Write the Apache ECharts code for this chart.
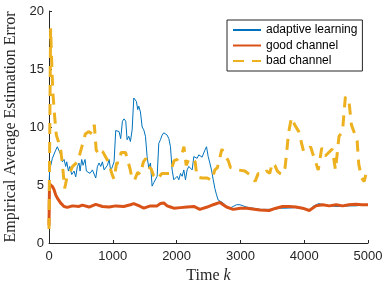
<!DOCTYPE html>
<html>
<head>
<meta charset="utf-8">
<script src="https://cdn.jsdelivr.net/npm/echarts@6/dist/echarts.min.js"></script>
<style>
  html, body { margin: 0; padding: 0; background: #fff; }
  #errchart { width: 384px; height: 281px; }
</style>
</head>
<body>
<div id="errchart"></div>
<script>
// time steps k and error values
const adaptiveK = [0, 11, 27, 53, 105, 131, 184, 210, 236, 262, 278, 304, 325, 356, 393, 419, 445, 471, 487, 513,
  534, 565, 586, 643, 680, 733, 759, 785, 811, 837, 864, 916, 942, 968, 994, 1020, 1046, 1072, 1098, 1124,
  1151, 1177, 1203, 1224, 1250, 1276, 1303, 1329, 1340, 1370, 1391, 1407, 1433, 1460, 1486, 1512, 1538, 1564, 1590, 1616,
  1642, 1695, 1721, 1747, 1773, 1799, 1852, 1878, 1904, 1930, 1956, 1982, 2009, 2035, 2061, 2087, 2113, 2139, 2165, 2191,
  2244, 2270, 2322, 2348, 2400, 2443, 2469, 2480, 2495, 2521, 2547, 2574, 2600, 2626, 2652, 2678, 2731, 2783, 2835, 2887,
  2940, 2992, 3044, 3096, 3201, 3306, 3410, 3515, 3619, 3720, 3870, 3975, 4080, 4150, 4230, 4300, 4400, 4500, 4600, 4700,
  4800, 4900, 5000];
const adaptiveErr = [5.0, 6.3, 6.2, 7.3, 8.0, 8.3, 7.6, 7.0, 7.2, 6.6, 7.0, 6.2, 6.6, 5.9, 6.2, 5.7, 6.6, 6.9, 6.2, 7.2,
  6.7, 7.2, 6.2, 6.0, 6.3, 5.6, 6.6, 6.9, 6.6, 7.0, 6.3, 6.7, 7.2, 6.2, 6.3, 7.0, 9.7, 9.8, 9.6, 9.0,
  10.5, 10.7, 10.5, 8.9, 9.2, 8.75, 9.75, 12.5, 12.6, 12.2, 11.5, 11.8, 11.3, 10.0, 9.75, 9.2, 7.45, 6.45, 6.9, 4.9,
  5.2, 5.75, 8.6, 8.9, 9.3, 9.5, 9.3, 9.0, 8.3, 6.3, 5.45, 5.3, 5.75, 5.45, 6.0, 5.75, 6.3, 5.45, 6.3, 6.6,
  6.3, 7.45, 7.3, 7.6, 7.4, 8.0, 8.3, 8.4, 7.45, 6.9, 6.3, 5.45, 4.7, 4.15, 3.7, 3.6, 3.45, 3.15, 3.0, 3.15,
  3.3, 3.3, 3.2, 3.1, 3.0, 2.9, 2.9, 2.9, 3.0, 3.0, 3.05, 2.95, 2.85, 3.2, 3.4, 3.3, 3.2, 3.15, 3.15, 3.2,
  3.2, 3.25, 3.25];

const goodK = [0, 8, 27, 53, 79, 105, 131, 157, 184, 210, 236, 288, 367, 471, 523, 628, 733, 837, 942, 1046,
  1172, 1276, 1329, 1433, 1486, 1590, 1695, 1747, 1799, 1852, 1904, 1956, 2060, 2165, 2270, 2364, 2480, 2574, 2678, 2783,
  2887, 3000, 3100, 3306, 3450, 3557, 3661, 3766, 3870, 3975, 4080, 4184, 4289, 4393, 4500, 4602, 4700, 4811, 4900, 5000];
const goodErr = [1.5, 5.1, 5.1, 4.87, 4.6, 4.15, 3.87, 3.73, 3.44, 3.3, 3.15, 3.07, 3.2, 3.15, 3.27, 3.1, 3.33, 3.15, 3.1, 3.2,
  3.15, 3.3, 3.4, 3.15, 3.0, 3.2, 3.2, 3.4, 3.45, 3.2, 3.1, 3.0, 3.05, 3.1, 3.15, 2.9, 3.1, 3.3, 3.5, 3.1,
  2.9, 3.0, 3.0, 2.85, 2.8, 3.0, 3.15, 3.15, 3.1, 3.0, 2.8, 3.2, 3.3, 3.2, 3.3, 3.2, 3.3, 3.35, 3.3, 3.3];

const badK = [0, 25, 45, 60, 90, 115, 150, 184, 210, 245, 280, 320, 370, 450, 510, 570, 620, 680, 710, 740,
  790, 840, 890, 930, 990, 1020, 1060, 1100, 1130, 1200, 1230, 1270, 1300, 1340, 1390, 1430, 1480, 1520, 1550, 1600,
  1640, 1700, 1770, 1840, 1900, 1960, 2010, 2080, 2115, 2150, 2190, 2256, 2290, 2320, 2400, 2480, 2550, 2600, 2640, 2710,
  2760, 2810, 2845, 2900, 2960, 3070, 3120, 3175, 3230, 3280, 3330, 3410, 3460, 3500, 3540, 3580, 3620, 3662, 3700, 3725,
  3755, 3800, 3850, 3915, 3990, 4060, 4100, 4140, 4220, 4275, 4330, 4440, 4490, 4515, 4545, 4600, 4645, 4700, 4740, 4830,
  4855, 4900, 4940, 4970, 5000];
const badErr = [1.2, 18.5, 15.2, 13.0, 10.8, 9.3, 8.7, 8.0, 6.8, 4.7, 5.6, 6.0, 6.6, 7.0, 8.2, 9.4, 9.6, 9.4, 10.2, 8.0,
  7.6, 7.9, 7.4, 7.0, 5.9, 5.5, 6.9, 6.9, 7.8, 7.8, 7.9, 6.4, 5.6, 5.4, 6.1, 5.9, 7.0, 7.3, 6.6, 6.4,
  5.8, 5.5, 6.0, 6.0, 6.0, 7.1, 7.2, 7.6, 8.3, 6.7, 7.2, 7.3, 7.0, 5.7, 5.6, 5.6, 5.4, 6.3, 6.5, 8.1,
  7.5, 7.1, 6.5, 6.4, 6.3, 6.2, 6.0, 5.8, 5.3, 6.0, 5.9, 6.2, 6.0, 6.9, 6.7, 6.2, 6.0, 5.9, 6.5, 7.8,
  9.5, 10.8, 10.2, 9.6, 7.9, 8.0, 8.3, 7.6, 6.3, 8.2, 7.5, 8.1, 6.3, 7.6, 9.2, 9.6, 12.6, 12.3, 10.2, 8.8,
  6.8, 5.6, 5.3, 6.0, 6.0];

const seriesNames = ["adaptive learning", "good channel", "bad channel"];

const zip = (ks, vs) => ks.map((k, i) => [k, vs[i]]);

const axisColor = "#262626";
const sansFont = "Liberation Sans, Arial, sans-serif";
const serifFont = "Liberation Serif, Times New Roman, serif";
const badDash = [11, 8];

const myChart = echarts.init(document.getElementById("errchart"));

const option = {
  animation: false,
  grid: {
    left: 49,
    right: 16,
    top: 11,
    bottom: 38,
    outerBoundsMode: "none",
  },
  legend: {
    orient: "vertical",
    left: 227,
    top: 20,
    data: [
      { name: seriesNames[0] },
      { name: seriesNames[1] },
      { name: seriesNames[2], lineStyle: { type: badDash } },
    ],
    itemWidth: 28,
    itemHeight: 12,
    itemGap: 3.5,
    padding: [4, 5, 4, 5],
    borderColor: axisColor,
    borderWidth: 1,
    backgroundColor: "#fff",
    itemStyle: { opacity: 0 },
    textStyle: {
      color: "#000",
      fontSize: 12,
      fontFamily: sansFont,
    },
  },
  xAxis: {
    type: "value",
    min: 0,
    max: 5000,
    interval: 1000,
    name: "Time {i|k}",
    nameLocation: "middle",
    nameGap: 21,
    nameTextStyle: {
      color: axisColor,
      fontSize: 16,
      fontFamily: serifFont,
      rich: {
        i: { fontStyle: "italic", fontSize: 16, fontFamily: serifFont, color: axisColor },
      },
    },
    axisLine: { show: true, lineStyle: { color: axisColor, width: 1 } },
    axisTick: { show: true, inside: true, length: 3, lineStyle: { color: axisColor } },
    axisLabel: {
      color: axisColor,
      fontSize: 13,
      fontFamily: sansFont,
      margin: 7,
      formatter: (v) => String(v),
    },
    splitLine: { show: false },
  },
  yAxis: {
    type: "value",
    min: 0,
    max: 20,
    interval: 5,
    name: "Empirical Average Estimation Error",
    nameLocation: "middle",
    nameGap: 27,
    nameTextStyle: {
      color: axisColor,
      fontSize: 16,
      fontFamily: serifFont,
    },
    axisLine: { show: true, lineStyle: { color: axisColor, width: 1 } },
    axisTick: { show: true, inside: true, length: 3, lineStyle: { color: axisColor } },
    axisLabel: {
      color: axisColor,
      fontSize: 13,
      fontFamily: sansFont,
      margin: 5,
      formatter: (v) => String(v),
    },
    splitLine: { show: false },
  },
  series: [
    {
      name: seriesNames[0],
      type: "line",
      data: zip(adaptiveK, adaptiveErr),
      symbol: "none",
      color: "#0072BD",
      lineStyle: { width: 1, color: "#0072BD" },
    },
    {
      name: seriesNames[1],
      type: "line",
      data: zip(goodK, goodErr),
      symbol: "none",
      color: "#D95319",
      lineStyle: { width: 3, color: "#D95319" },
    },
    {
      name: seriesNames[2],
      type: "line",
      data: zip(badK, badErr),
      symbol: "none",
      color: "#EDB120",
      lineStyle: { width: 3, color: "#EDB120", type: badDash },
    },
  ],
};

option && myChart.setOption(option);
</script>
</body>
</html>
